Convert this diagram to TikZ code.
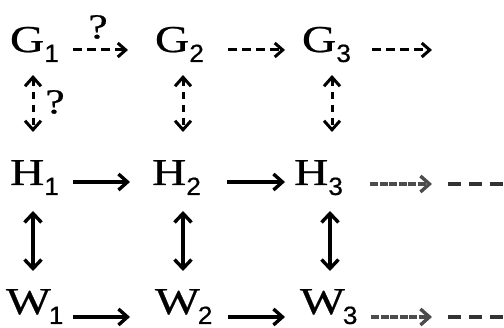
\documentclass[tikz,border=0pt]{standalone}
\usepackage{fontspec}
\setmainfont[FakeStretch=1.25,FakeBold=0.6]{Liberation Serif}
\newfontfamily\subf[FakeStretch=1.05,FakeBold=0.6]{Liberation Sans}
\usetikzlibrary{arrows.meta}
\newcommand{\lbsub}[3][0pt]{#2\kern#1\raisebox{-10pt}{\fontsize{25}{25}\subf #3}}
\tikzset{
  lbl/.style={anchor=base west, inner sep=0pt, outer sep=0pt, font=\fontsize{38}{40}\selectfont},
  qmark/.style={inner sep=0pt, font=\fontsize{35}{36}\selectfont},
  solidarr/.style={line width=3.4pt, -{Straight Barb[length=9pt,width=16pt]}},
  dasharr/.style={line width=3pt, dash pattern=on 9pt off 5pt, -{Straight Barb[length=8pt,width=14pt]}},
  greyarr/.style={line width=3.4pt, draw=black!70, dash pattern=on 8pt off 1.5pt, -{Straight Barb[length=9pt,width=16pt]}},
  trail/.style={line width=3.2pt, draw=black!80, dash pattern=on 13pt off 8pt},
  dblsolid/.style={line width=3.4pt, {Straight Barb[length=9pt,width=17pt]}-{Straight Barb[length=9pt,width=17pt]}},
  dbldash/.style={line width=3pt, dash pattern=on 7pt off 6pt, {Straight Barb[length=9pt,width=16pt]}-{Straight Barb[length=9pt,width=16pt]}}
}
\begin{document}
\begin{tikzpicture}[x=1pt,y=-1pt]
\useasboundingbox (0,0) rectangle (504,328);
% nodes
\node[lbl] (g1) at (10,52) {\lbsub{G}{1}};
\node[lbl] (g2) at (155,52) {\lbsub{G}{2}};
\node[lbl] (g3) at (302,52) {\lbsub{G}{3}};
\node[lbl] (h1) at (10,185) {\lbsub{H}{1}};
\node[lbl] (h2) at (152,185) {\lbsub{H}{2}};
\node[lbl] (h3) at (294,185) {\lbsub{H}{3}};
\node[lbl] (w1) at (6,314) {\lbsub[-2pt]{W}{1}};
\node[lbl] (w2) at (155,314) {\lbsub[-2pt]{W}{2}};
\node[lbl] (w3) at (300,314) {\lbsub[-2pt]{W}{3}};
\node[qmark] (q1) at (98,27) {?};
\node[qmark] (q2) at (55,102) {?};
\coordinate (g4) at (432,50);
\coordinate (h4) at (432,184);
\coordinate (h5a) at (448,184);
\coordinate (h5b) at (506,184);
\coordinate (w4) at (432,317);
\coordinate (w5a) at (448,317);
\coordinate (w5b) at (506,317);
% G row
\draw[dasharr] ([shift={(63,-2)}]g1.base west) -- ([shift={(-27,-2)}]g2.base west);
\draw[dasharr] ([shift={(73,-2)}]g2.base west) -- ([shift={(-17,-2)}]g3.base west);
\draw[dasharr] ([shift={(70,-2)}]g3.base west) -- (g4);
% H row
\draw[solidarr] ([shift={(63,-3)}]h1.base west) -- ([shift={(-22,-3)}]h2.base west);
\draw[solidarr] ([shift={(75,-3)}]h2.base west) -- ([shift={(-9,-3)}]h3.base west);
\draw[greyarr] ([shift={(76,-1)}]h3.base west) -- (h4);
\draw[trail] (h5a) -- (h5b);
% W row
\draw[solidarr] ([shift={(67,3)}]w1.base west) -- ([shift={(-25,3)}]w2.base west);
\draw[solidarr] ([shift={(73,3)}]w2.base west) -- ([shift={(-15,3)}]w3.base west);
\draw[greyarr] ([shift={(71,3)}]w3.base west) -- (w4);
\draw[trail] (w5a) -- (w5b);
% verticals G-H
\draw[dbldash] ([shift={(23,23)}]g1.base west) -- ([shift={(23,-53)}]h1.base west);
\draw[dbldash] ([shift={(28,23)}]g2.base west) -- ([shift={(31,-53)}]h2.base west);
\draw[dbldash] ([shift={(30,23)}]g3.base west) -- ([shift={(38,-53)}]h3.base west);
% verticals H-W
\draw[dblsolid] ([shift={(23,26)}]h1.base west) -- ([shift={(27,-43)}]w1.base west);
\draw[dblsolid] ([shift={(31,26)}]h2.base west) -- ([shift={(28,-43)}]w2.base west);
\draw[dblsolid] ([shift={(36,26)}]h3.base west) -- ([shift={(30,-43)}]w3.base west);
\end{tikzpicture}
\end{document}
